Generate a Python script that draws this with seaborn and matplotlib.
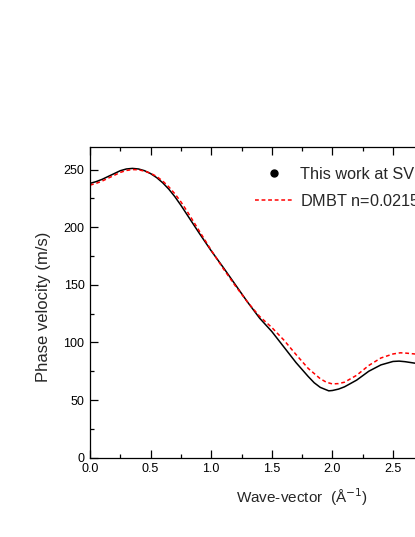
import seaborn as sns
import numpy as np
import matplotlib.pyplot as plt
import pandas as pd
from matplotlib.lines import Line2D
from matplotlib.ticker import MultipleLocator

#%% data
k_svp = [0.00, 0.05, 0.10, 0.15, 0.20, 0.25, 0.30, 0.35, 0.40, 0.45, 0.50,
         0.55, 0.60, 0.65, 0.70, 0.75, 0.80, 0.90, 1.00, 1.10, 1.20, 1.30,
         1.40, 1.50, 1.60, 1.70, 1.80, 1.85, 1.90, 1.97, 2.00, 2.05, 2.10,
         2.20, 2.30, 2.40, 2.50, 2.55, 2.60, 2.70, 2.80]
v_svp = [238.0, 239.5, 241.5, 244.0, 246.5, 249.0, 250.5, 251.0, 250.5,
         249.0, 246.5, 243.0, 238.5, 233.0, 226.5, 219.0, 211.0, 195.0,
         179.5, 165.0, 150.0, 135.0, 121.0, 109.5, 96.0, 82.5, 70.5, 65.0,
         61.0, 58.0, 58.3, 59.5, 61.5, 67.3, 75.0, 80.5, 83.5, 83.8, 83.3,
         81.7, 80.0]

k_dmbt = [0.00, 0.05, 0.10, 0.15, 0.20, 0.25, 0.30, 0.35, 0.40, 0.45, 0.50,
          0.55, 0.60, 0.65, 0.70, 0.75, 0.80, 0.90, 1.00, 1.10, 1.20, 1.30,
          1.40, 1.50, 1.60, 1.70, 1.80, 1.90, 1.95, 2.00, 2.05, 2.10, 2.20,
          2.30, 2.40, 2.50, 2.56, 2.60, 2.70, 2.80]
v_dmbt = [236.5, 238.0, 240.0, 242.5, 245.0, 247.5, 249.2, 250.0, 249.8,
          248.6, 246.8, 244.0, 240.0, 235.0, 229.0, 222.0, 214.0, 197.0,
          180.0, 164.0, 149.0, 135.0, 122.5, 113.0, 102.0, 89.5, 77.5,
          68.5, 65.5, 64.0, 64.3, 65.5, 71.5, 80.0, 86.5, 90.0, 91.0, 90.8,
          89.8, 88.5]

df_svp = pd.DataFrame({'k': k_svp, 'v': v_svp})
df_dmbt = pd.DataFrame({'k': k_dmbt, 'v': v_dmbt})

#%%
sns.set_theme(style='ticks')
plt.rcParams['font.family'] = ['Liberation Sans', 'DejaVu Sans']

fig = plt.figure(figsize=(4.15, 5.37), dpi=100)
# axes run past the right edge of the picture, like the reference crop
ax = fig.add_axes([90/415, 79.3/537, 3.5*121.2/415, 311.2/537])

sns.lineplot(data=df_svp, x='k', y='v', ax=ax, color='black', lw=1.1,
             sort=False, estimator=None)
sns.lineplot(data=df_dmbt, x='k', y='v', ax=ax, color='red', lw=1.1,
             sort=False, estimator=None, dashes=False, linestyle=(0, (2.5, 1.8)))

ax.set_xlim(0, 3.5)
ax.set_ylim(0, 270)
ax.xaxis.set_major_locator(MultipleLocator(0.5))
ax.xaxis.set_minor_locator(MultipleLocator(0.25))
ax.yaxis.set_major_locator(MultipleLocator(50))
ax.yaxis.set_minor_locator(MultipleLocator(25))
ax.tick_params(which='both', direction='in', top=True, right=True,
               labelsize=9, colors='black', width=0.9, pad=4)
ax.tick_params(which='major', length=6)
ax.tick_params(which='minor', length=3)
ax.xaxis.set_major_formatter(plt.FuncFormatter(lambda x, p: f'{x:.1f}'))
for s in ax.spines.values():
    s.set_linewidth(0.9)
    s.set_color('black')

ax.set_xlabel('Wave-vector  (Å$^{-1}$)', fontsize=11, labelpad=8)
ax.set_ylabel('Phase velocity (m/s)', fontsize=12, labelpad=9)
ax.yaxis.label.set_y(0.485)

handles = [Line2D([], [], color='black', marker='o', ls='none', markersize=5),
           Line2D([], [], color='red', lw=1.1, ls=(0, (2.5, 1.8)))]
labels = ['This work at SVP', 'DMBT n=0.02155 Å$^{-3}$']
fig.legend(handles, labels, loc='upper left',
           bbox_to_anchor=(255/415, 1 - 167/537), frameon=False,
           fontsize=11.7, handlelength=2.35, handletextpad=0.45,
           labelspacing=0.5, borderpad=0, borderaxespad=0)

plt.savefig('out.png', dpi=100)
